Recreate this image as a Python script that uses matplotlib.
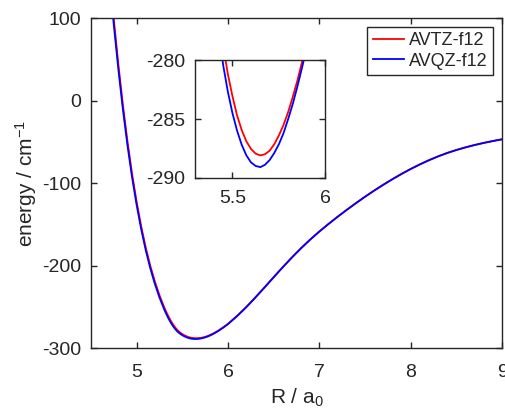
import matplotlib
matplotlib.use("Agg")
import matplotlib.pyplot as plt

plt.rcParams['font.family'] = ['Liberation Sans', 'DejaVu Sans']
plt.rcParams['mathtext.default'] = 'regular'
plt.rcParams['axes.unicode_minus'] = False

# R grid (bohr) and energies (cm^-1)
R = [4.70, 4.75, 4.80, 4.85, 4.90, 4.95, 5.00, 5.05, 5.10, 5.15, 5.20, 5.25,
     5.30, 5.325, 5.35, 5.375, 5.40, 5.425, 5.45, 5.475, 5.50, 5.525, 5.55,
     5.575, 5.60, 5.625, 5.65, 5.675, 5.70, 5.725, 5.75, 5.775, 5.80, 5.825,
     5.85, 5.875, 5.90, 5.95, 6.00, 6.1, 6.2, 6.3, 6.4, 6.5, 6.6, 6.7, 6.8,
     6.9, 7.0, 7.1, 7.2, 7.3, 7.4, 7.5, 7.6, 7.7, 7.8, 7.9, 8.0, 8.1, 8.2,
     8.3, 8.4, 8.5, 8.6, 8.7, 8.8, 8.9, 9.0]

avtz = [159.2, 98.8, 44.0, -5.5, -49.6, -88.7, -122.7, -152.4, -178.2, -200.4,
        -219.5, -235.95, -250.1, -256.4, -262.1, -267.15, -271.6, -275.45,
        -278.75, -281.15, -283.05, -284.7, -285.95, -286.9, -287.55, -287.95,
        -288.1, -288.0, -287.7, -287.15, -286.4, -285.5, -284.4, -283.1,
        -281.7, -280.1, -278.4, -274.7, -270.6, -260.95, -250.2, -238.5,
        -226.35, -213.95, -201.8, -190.0, -178.8, -168.3, -158.55, -149.4,
        -140.7, -132.3, -124.2, -116.4, -108.95, -101.85, -95.1, -88.7, -82.7,
        -77.2, -72.1, -67.45, -63.3, -59.7, -56.5, -53.65, -51.1, -48.8, -46.7]

avqz = [152.0, 92.0, 37.8, -11.0, -54.5, -93.0, -126.6, -156.0, -181.5, -203.5,
        -222.4, -238.7, -252.7, -258.9, -264.5, -269.45, -273.75, -277.4,
        -280.4, -282.65, -284.5, -286.0, -287.2, -288.1, -288.7, -289.0,
        -289.1, -288.9, -288.5, -287.9, -287.15, -286.2, -285.0, -283.7,
        -282.2, -280.6, -278.9, -275.15, -271.0, -261.3, -250.5, -238.8,
        -226.6, -214.2, -202.0, -190.2, -179.0, -168.5, -158.75, -149.6,
        -140.85, -132.45, -124.35, -116.55, -109.1, -102.0, -95.25, -88.85,
        -82.85, -77.3, -72.2, -67.55, -63.4, -59.8, -56.6, -53.75, -51.2,
        -48.9, -46.8]

labels = ['AVTZ-f12', 'AVQZ-f12']
colors = ['#ff0000', '#0000ff']
dark = '#262626'

fig = plt.figure(figsize=(5.06, 4.12), dpi=100)
ax = fig.add_axes([0.1798, 0.1553, 0.8123, 0.8002])

for e, lab, c in zip([avtz, avqz], labels, colors):
    ax.plot(R, e, color=c, lw=1.3, label=lab)

ax.set_xlim(4.5, 9)
ax.set_ylim(-300, 100)
ax.set_xticks([5, 6, 7, 8, 9])
ax.set_yticks([-300, -200, -100, 0, 100])
ax.set_xlabel('R / a$_0$', fontsize=15, color=dark, labelpad=4)
ax.set_ylabel('energy / cm$^{-1}$', fontsize=15, color=dark, labelpad=2)


def style(a, xpad, ypad):
    a.tick_params(direction='in', top=True, right=True, length=4.5, width=1,
                  colors=dark, labelsize=14)
    a.tick_params(axis='x', pad=xpad)
    a.tick_params(axis='y', pad=ypad)
    for s in a.spines.values():
        s.set_color(dark)
        s.set_linewidth(1.0)


style(ax, 11.5, 7)

leg = ax.legend(loc='upper right', bbox_to_anchor=(0.9737, 0.9352),
                bbox_transform=fig.transFigure, borderaxespad=0,
                fontsize=13, frameon=True, fancybox=False, framealpha=1,
                edgecolor=dark, handlelength=1.75, handletextpad=0.25,
                borderpad=0.3, labelspacing=0.2)
leg.get_frame().set_linewidth(1.0)
for t in leg.get_texts():
    t.set_color(dark)

# inset around the minimum
ins = fig.add_axes([0.386, 0.5687, 0.2569, 0.2847])
for e, c in zip([avtz, avqz], colors):
    ins.plot(R, e, color=c, lw=1.3)
ins.set_xlim(5.3, 6)
ins.set_ylim(-290, -280)
ins.set_xticks([5.5, 6])
ins.set_xticklabels(['5.5', '6'])
ins.set_yticks([-290, -285, -280])
style(ins, 9, 7)

fig.savefig('out.png', dpi=100)
